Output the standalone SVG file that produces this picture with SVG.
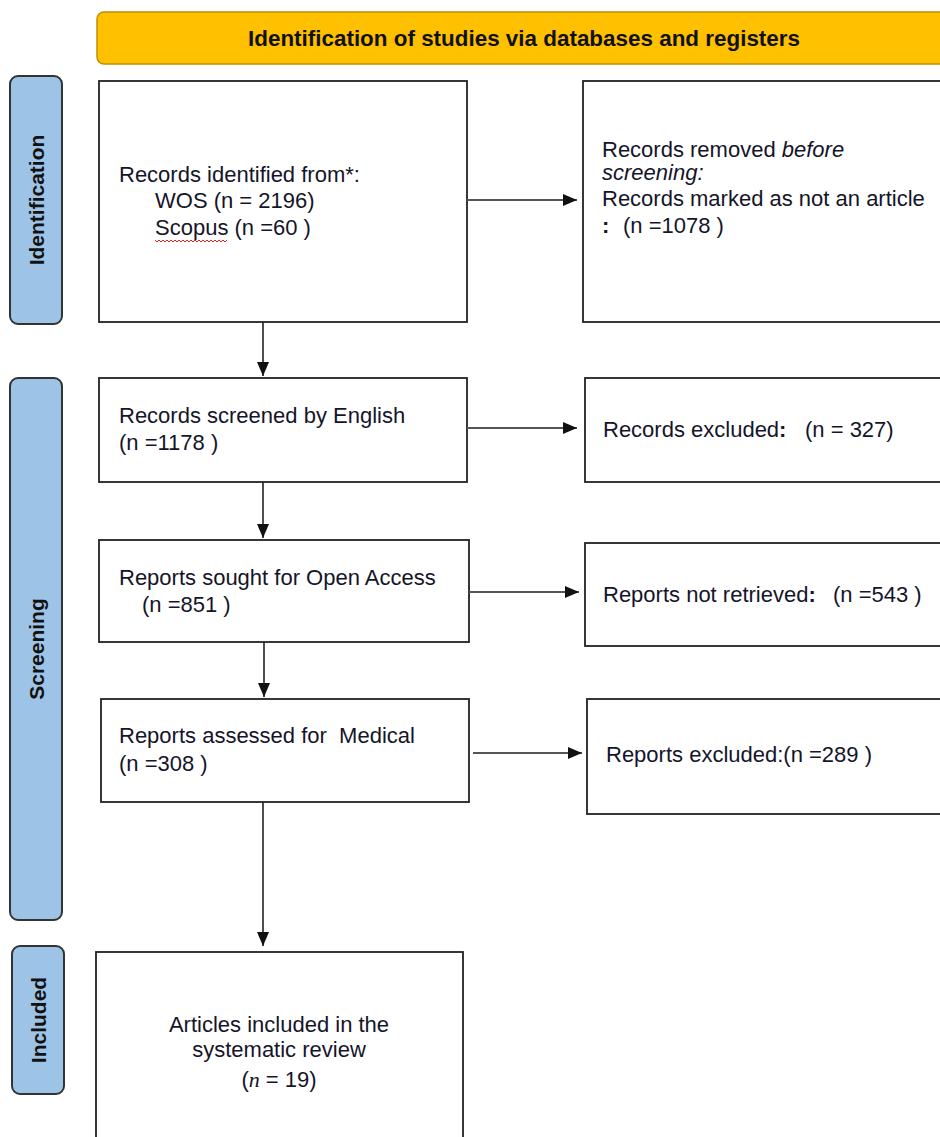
<svg xmlns="http://www.w3.org/2000/svg" width="940" height="1137" viewBox="0 0 940 1137">
<defs>
<marker id="ah" markerUnits="userSpaceOnUse" markerWidth="14" markerHeight="12" refX="14" refY="6" orient="auto">
<path d="M0,0 L14,6 L0,12 z" fill="#111"/>
</marker>
<style>
.box{fill:#fff;stroke:#222;stroke-width:1.8}
.lab{fill:#9DC3E6;stroke:#333;stroke-width:2}
.lt{font-family:"Liberation Sans",Arial,sans-serif;font-weight:bold;font-size:21px;fill:#111;text-anchor:middle}
.t{font-family:"Liberation Sans",Arial,sans-serif;font-size:22px;fill:#15152a;white-space:pre}
.h{stroke:#555;stroke-width:2;fill:none}
.v{stroke:#222;stroke-width:1.6;fill:none}
</style>
</defs>
<rect width="940" height="1137" fill="#fff"/>

<g id="title">
<rect x="97" y="12" width="870" height="52" rx="7" fill="#FFC000" stroke="#BF9000" stroke-width="1.5"/>
<text x="524" y="46" font-family="'Liberation Sans',Arial,sans-serif" font-weight="bold" font-size="22" fill="#111" text-anchor="middle" textLength="552" lengthAdjust="spacingAndGlyphs">Identification of studies via databases and registers</text>
</g>

<g id="label-identification">
<rect class="lab" x="10" y="76" width="52" height="248" rx="8"/>
<text class="lt" transform="translate(44,200) rotate(-90)">Identification</text>
</g>
<g id="label-screening">
<rect class="lab" x="10" y="378" width="52" height="542" rx="8"/>
<text class="lt" transform="translate(44,649) rotate(-90)">Screening</text>
</g>
<g id="label-included">
<rect class="lab" x="12" y="946" width="52" height="148" rx="8"/>
<text class="lt" transform="translate(46,1020) rotate(-90)">Included</text>
</g>

<g id="node-identified">
<rect class="box" x="99" y="81" width="368" height="241"/>
<text class="t" x="119" y="182">Records identified from*:</text>
<text class="t" x="155" y="208">WOS (n = 2196)</text>
<text class="t" x="155" y="235">Scopus (n =60 )</text>
<path d="M155,240 l2,2 l2,-2 l2,2 l2,-2 l2,2 l2,-2 l2,2 l2,-2 l2,2 l2,-2 l2,2 l2,-2 l2,2 l2,-2 l2,2 l2,-2 l2,2 l2,-2 l2,2 l2,-2 l2,2 l2,-2 l2,2 l2,-2 l2,2 l2,-2 l2,2 l2,-2 l2,2 l2,-2 l2,2 l2,-2 l2,2 l2,-2 l2,2 l2,-2" fill="none" stroke="#e02020" stroke-width="1"/>
</g>

<g id="node-removed">
<rect class="box" x="583" y="81" width="400" height="241"/>
<text class="t" x="602" y="157">Records removed <tspan font-style="italic">before</tspan></text>
<text class="t" x="602" y="180" font-style="italic">screening:</text>
<text class="t" x="602" y="206">Records marked as not an article</text>
<text class="t" x="602" y="233"><tspan font-weight="bold">:</tspan><tspan x="623">(n =1078 )</tspan></text>
</g>

<g id="node-screened">
<rect class="box" x="99" y="378" width="368" height="104"/>
<text class="t" x="119" y="423">Records screened by English</text>
<text class="t" x="119" y="450">(n =1178 )</text>
</g>

<g id="node-excluded">
<rect class="box" x="585" y="378" width="400" height="104"/>
<text class="t" x="603" y="437">Records excluded<tspan font-weight="bold">:</tspan><tspan x="805">(n = 327)</tspan></text>
</g>

<g id="node-sought">
<rect class="box" x="99" y="540" width="370" height="102"/>
<text class="t" x="119" y="585">Reports sought for Open Access</text>
<text class="t" x="142" y="612">(n =851 )</text>
</g>

<g id="node-notretrieved">
<rect class="box" x="585" y="543" width="400" height="103"/>
<text class="t" x="603" y="602">Reports not retrieved<tspan font-weight="bold">:</tspan><tspan x="833">(n =543 )</tspan></text>
</g>

<g id="node-assessed">
<rect class="box" x="101" y="699" width="368" height="103"/>
<text class="t" x="119" y="743">Reports assessed for  Medical</text>
<text class="t" x="119" y="771">(n =308 )</text>
</g>

<g id="node-reportsexcluded">
<rect class="box" x="587" y="699" width="400" height="115"/>
<text class="t" x="606" y="762">Reports excluded:(n =289 )</text>
</g>

<g id="node-included">
<rect class="box" x="96" y="952" width="367" height="200"/>
<text class="t" x="279" y="1032" text-anchor="middle">Articles included in the</text>
<text class="t" x="279" y="1057" text-anchor="middle">systematic review</text>
<text class="t" x="279" y="1087" text-anchor="middle">(<tspan font-family="'Liberation Serif',serif" font-style="italic">n</tspan> = 19)</text>
</g>

<g id="connectors">
<line class="h" x1="467" y1="200" x2="577" y2="200" marker-end="url(#ah)"/>
<line class="h" x1="467" y1="428" x2="577" y2="428" marker-end="url(#ah)"/>
<line class="h" x1="469" y1="592" x2="579" y2="592" marker-end="url(#ah)"/>
<line class="h" x1="473" y1="753" x2="582" y2="753" marker-end="url(#ah)"/>
<line class="v" x1="263" y1="322" x2="263" y2="376" marker-end="url(#ah)"/>
<line class="v" x1="263" y1="482" x2="263" y2="538" marker-end="url(#ah)"/>
<line class="v" x1="264" y1="642" x2="264" y2="697" marker-end="url(#ah)"/>
<line class="v" x1="263" y1="802" x2="263" y2="946" marker-end="url(#ah)"/>
</g>
</svg>
